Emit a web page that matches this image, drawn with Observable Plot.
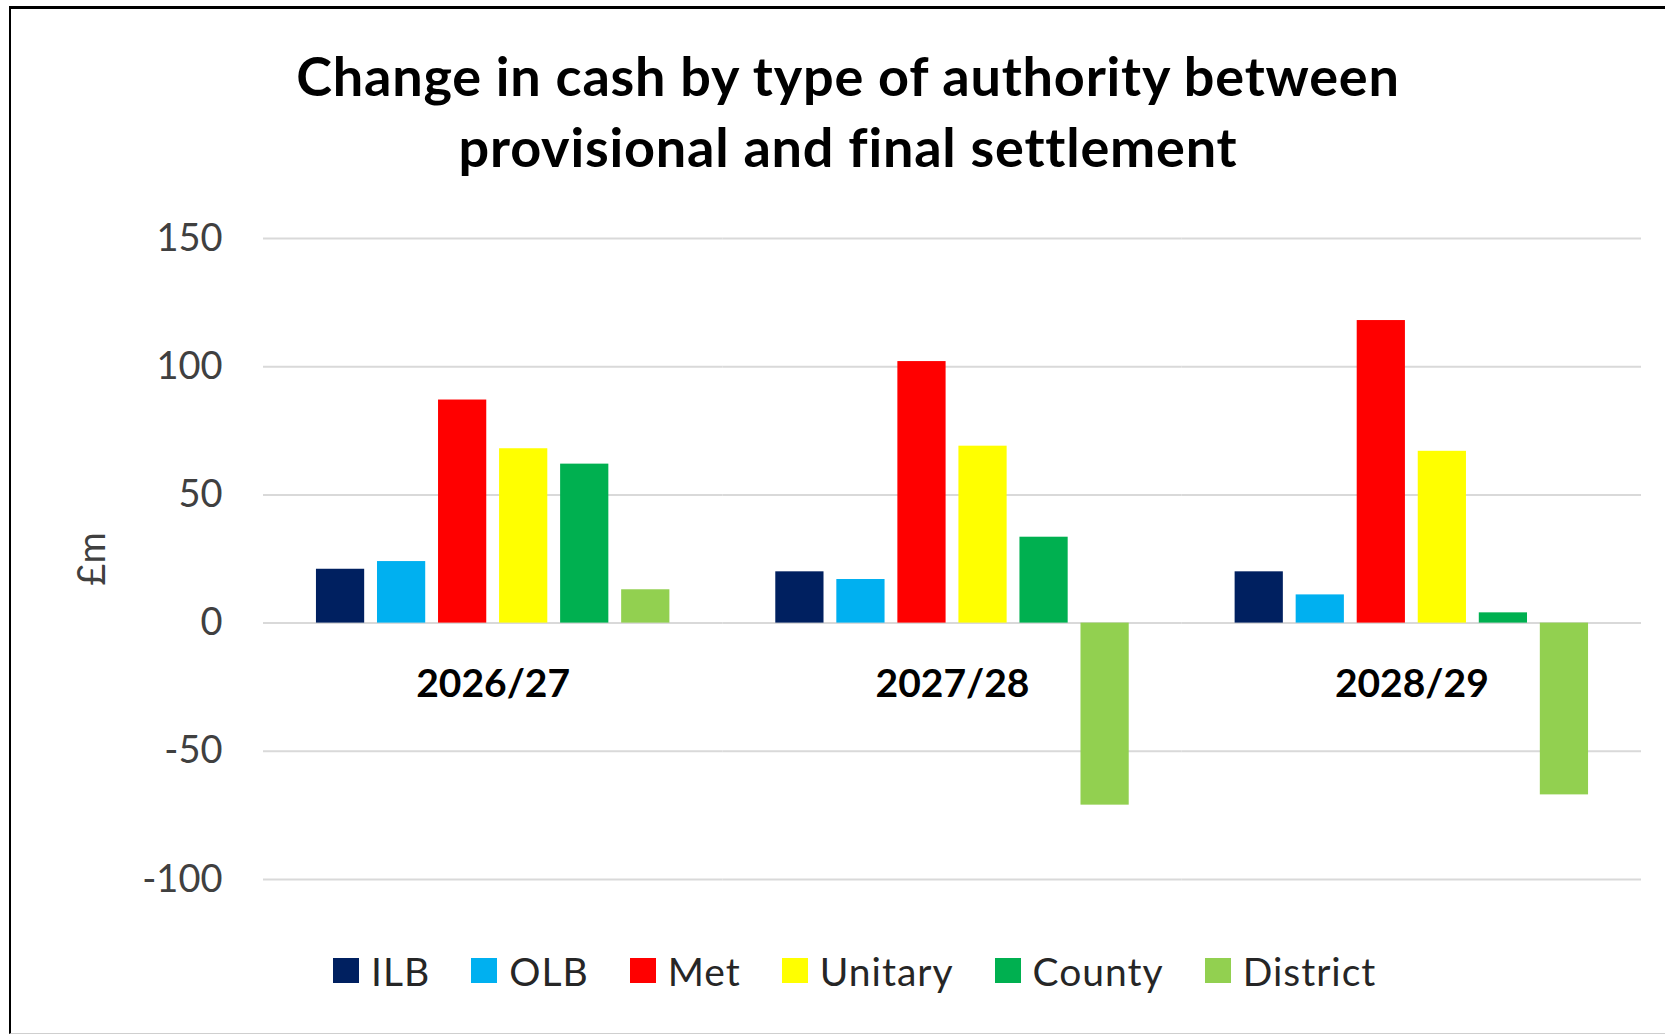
<!DOCTYPE html>
<html><head><meta charset="utf-8">
<script src="https://cdn.jsdelivr.net/npm/d3@7"></script>
<script src="https://cdn.jsdelivr.net/npm/@observablehq/plot@0.6"></script>
<style>
html,body{margin:0;padding:0;background:#fff;}
body{width:1665px;height:1034px;position:relative;overflow:hidden;font-family:Lato,"Open Sans",sans-serif;}
#frame{position:absolute;left:9px;top:6px;width:1660px;height:1028px;border-top:3px solid #000;border-left:2px solid #000;border-bottom:1px solid #cfcfcf;box-sizing:border-box;}
#title{position:absolute;left:0;width:1696px;top:40px;text-align:center;font-weight:700;font-size:54px;line-height:71px;color:#000;letter-spacing:0.8px;}
#chart{position:absolute;left:0;top:200px;}
#legend{position:absolute;left:333px;top:958px;display:flex;align-items:center;height:25px;font-size:39px;color:#262626;white-space:nowrap;letter-spacing:1px;}
.item{display:flex;align-items:center;margin-right:41px;}
.sw{width:26px;height:25px;margin-right:12px;flex:none;}
</style></head><body>
<div id="frame"></div>
<div id="title">Change in cash by type of authority between<br>provisional and final settlement</div>
<div id="chart"></div>
<div id="legend"></div>
<script>
const years = ["2026/27","2027/28","2028/29"];
const types = ["ILB","OLB","Met","Unitary","County","District"];
const ILB = [21, 20, 20];
const OLB = [24, 17, 11];
const Met = [87, 102, 118];
const Unitary = [68, 69, 67];
const County = [62, 33.5, 4];
const District = [13, -71, -67];
const colors = ["#002060","#00B0F0","#FF0000","#FFFF00","#00B050","#92D050"];
const yTicks = [-100, -50, 0, 50, 100, 150];
const yLabel = "£m";

const series = [ILB, OLB, Met, Unitary, County, District];
const data = [];
years.forEach((yr, i) => types.forEach((t, j) => data.push({year: yr, type: t, value: series[j][i]})));

const plot = Plot.plot({
  width: 1665, height: 699,
  marginLeft: 263, marginRight: 24, marginTop: 38, marginBottom: 20,
  style: {fontFamily: "Lato, sans-serif", fontSize: "38px", background: "transparent", overflow: "visible"},
  fx: {domain: years, padding: 0, round: false, axis: null, label: null},
  x: {domain: types, paddingInner: 0.21, paddingOuter: 0.8675, round: false, axis: null},
  y: {domain: [-100, 150], ticks: yTicks, label: null},
  color: {domain: types, range: colors},
  marks: [
    Plot.gridY(yTicks, {stroke: "#d9d9d9", strokeOpacity: 1, strokeWidth: 2}),
    Plot.axisY(yTicks, {tickSize: 0, tickPadding: 41, fontSize: 38, color: "#404040", tickFormat: d => String(d).replace("\u2212", "-"),
      label: yLabel, labelAnchor: "center", labelArrow: "none", labelOffset: 185}),
    Plot.barY(data, {fx: "year", x: "type", y: "value", fill: "type"}),
    Plot.text(years, {fx: d => d, y: () => 0, text: d => d, dy: 61, fontWeight: "bold", fontSize: 39, fill: "#000", frameAnchor: "middle"})
  ]
});
document.getElementById("chart").appendChild(plot);

const legend = document.getElementById("legend");
types.forEach((t, j) => {
  const it = document.createElement("div");
  it.className = "item";
  const sw = document.createElement("div");
  sw.className = "sw";
  sw.style.background = colors[j];
  const tx = document.createElement("span");
  tx.textContent = t;
  it.appendChild(sw); it.appendChild(tx);
  legend.appendChild(it);
});
</script>
</body></html>
